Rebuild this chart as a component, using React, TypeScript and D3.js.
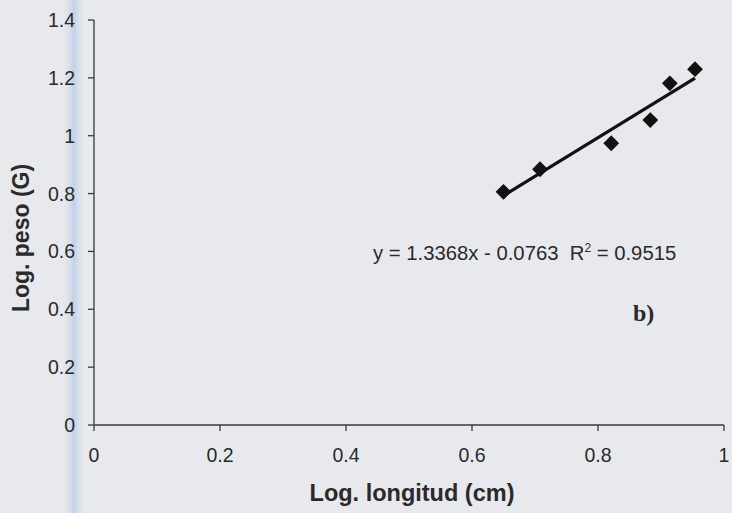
import React from "react";
import * as d3 from "d3";

// Log-length vs log-weight samples
const logLength = [0.65, 0.708, 0.821, 0.883, 0.914, 0.954];
const logWeight = [0.806, 0.884, 0.974, 1.054, 1.181, 1.23];

// Fitted linear trend
const slope = 1.3368;
const intercept = -0.0763;
const rSquared = 0.9515;

const xTicks = [0, 0.2, 0.4, 0.6, 0.8, 1];
const yTicks = [0, 0.2, 0.4, 0.6, 0.8, 1, 1.2, 1.4];

const xTitle = "Log. longitud (cm)";
const yTitle = "Log. peso (G)";
const panelLabel = "b)";

const W = 732;
const H = 513;

export default function App() {
  const x = d3.scaleLinear().domain([0, 1]).range([94, 724]);
  const y = d3.scaleLinear().domain([0, 1.4]).range([425, 20]);

  const fmt = (v: number) => (v === 0 || v === 1 ? String(v) : v.toFixed(1));

  const xMin = d3.min(logLength) as number;
  const xMax = d3.max(logLength) as number;
  const trend = d3
    .line<number>()
    .x((d) => x(d))
    .y((d) => y(slope * d + intercept))([xMin, xMax]);

  const diamond = d3.symbol().type(d3.symbolSquare).size(125)() as string;

  const axisColor = "#3a3a3a";
  const textColor = "#2a2a2a";
  const font = "Arial, 'Liberation Sans', sans-serif";

  return (
    <svg
      width={W}
      height={H}
      style={{ position: "fixed", left: 0, top: 0, display: "block" }}
    >
      <defs>
        <linearGradient id="band" x1="0" x2="1" y1="0" y2="0">
          <stop offset="0" stopColor="#e6eaf0" stopOpacity="0" />
          <stop offset="0.5" stopColor="#b9cde6" stopOpacity="1" />
          <stop offset="1" stopColor="#e6eaf0" stopOpacity="0" />
        </linearGradient>
      </defs>
      <rect x={0} y={0} width={W} height={H} fill="#e7e9ed" />
      <rect x={61} y={0} width={26} height={H} fill="url(#band)" opacity={0.85} />

      {/* axes */}
      <line x1={x(0)} x2={x(0)} y1={y(0)} y2={y(1.4)} stroke={axisColor} strokeWidth={1.3} />
      <line x1={x(0)} x2={x(1)} y1={y(0)} y2={y(0)} stroke={axisColor} strokeWidth={1.3} />

      {yTicks.map((t) => (
        <g key={"y" + t}>
          <line x1={x(0) - 6} x2={x(0)} y1={y(t)} y2={y(t)} stroke={axisColor} strokeWidth={1.3} />
          <text
            x={x(0) - 19}
            y={y(t)}
            dy="0.36em"
            textAnchor="end"
            fontFamily={font}
            fontSize={19.5}
            fill={textColor}
          >
            {fmt(t)}
          </text>
        </g>
      ))}

      {xTicks.map((t) => (
        <g key={"x" + t}>
          <line x1={x(t)} x2={x(t)} y1={y(0)} y2={y(0) + 6} stroke={axisColor} strokeWidth={1.3} />
          <text
            x={x(t)}
            y={462}
            textAnchor="middle"
            fontFamily={font}
            fontSize={19.5}
            fill={textColor}
          >
            {fmt(t)}
          </text>
        </g>
      ))}

      <text
        x={412}
        y={501}
        textAnchor="middle"
        fontFamily={font}
        fontWeight="bold"
        fontSize={23.5}
        fill={textColor}
      >
        {xTitle}
      </text>
      <text
        transform="translate(29,238) rotate(-90)"
        textAnchor="middle"
        fontFamily={font}
        fontWeight="bold"
        fontSize={23}
        fill={textColor}
      >
        {yTitle}
      </text>

      {/* trend line */}
      <path d={trend ?? ""} stroke="#111" strokeWidth={3.2} fill="none" />

      {/* data points */}
      {logLength.map((lx, i) => (
        <path
          key={i}
          d={diamond}
          transform={`translate(${x(lx)},${y(logWeight[i])}) rotate(45)`}
          fill="#111"
        />
      ))}

      {/* regression equation */}
      <text
        x={373}
        y={260}
        fontFamily={font}
        fontSize={20.3}
        fill={textColor}
        style={{ whiteSpace: "pre" }}
      >
        {`y = ${slope}x - ${Math.abs(intercept).toFixed(4)}  R`}
        <tspan fontSize={12} dy={-8}>2</tspan>
        <tspan dy={8}>{` = ${rSquared}`}</tspan>
      </text>

      <text
        x={633}
        y={321}
        fontFamily="'Liberation Serif', 'Times New Roman', serif"
        fontWeight="bold"
        fontSize={24}
        fill={textColor}
      >
        {panelLabel}
      </text>
    </svg>
  );
}
